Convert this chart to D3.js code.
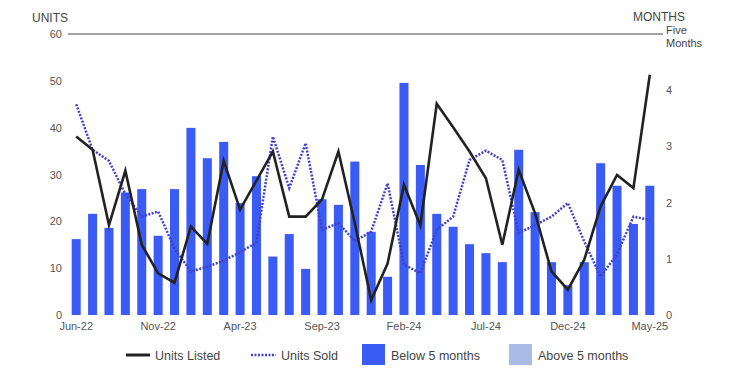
<!DOCTYPE html>
<html>
<head>
<meta charset="utf-8">
<script src="https://cdn.jsdelivr.net/npm/d3@7"></script>
<style>
  body { margin: 0; background: #fff; }
  text { font-family: "Liberation Sans", Arial, sans-serif; }
</style>
</head>
<body>
<div id="chart"></div>
<script>
  // months shown on the x axis (Jun-22 .. May-25)
  var months = ["Jun-22","Jul-22","Aug-22","Sep-22","Oct-22","Nov-22","Dec-22","Jan-23","Feb-23","Mar-23","Apr-23","May-23",
    "Jun-23","Jul-23","Aug-23","Sep-23","Oct-23","Nov-23","Dec-23","Jan-24","Feb-24","Mar-24","Apr-24","May-24",
    "Jun-24","Jul-24","Aug-24","Sep-24","Oct-24","Nov-24","Dec-24","Jan-25","Feb-25","Mar-25","Apr-25","May-25"];
  var xTickLabels = ["Jun-22","Nov-22","Apr-23","Sep-23","Feb-24","Jul-24","Dec-24","May-25"];

  // months of supply (right axis) - all below 5 months
  var monthsSupply = [1.35,1.80,1.55,2.18,2.24,1.41,2.24,3.33,2.79,3.08,1.99,2.47,
    1.04,1.44,0.82,2.06,1.96,2.73,1.48,0.68,4.13,2.67,1.80,1.57,
    1.26,1.10,0.94,2.94,1.83,0.94,0.53,0.94,2.70,2.30,1.62,2.30];
  // units (left axis)
  var unitsListed = [38.1,35.3,19.2,30.8,15.0,8.9,6.9,18.9,15.2,32.9,22.5,28.7,
    34.9,21.0,21.0,24.7,34.9,19.6,3.2,11.0,27.8,19.1,45.1,40.1,
    34.9,29.2,15.0,31.0,21.7,9.3,5.4,11.8,23.2,29.9,27.1,51.3];
  var unitsSold = [45.0,35.3,32.9,25.8,21.0,22.1,14.2,9.3,10.3,11.6,13.4,15.5,
    38.1,27.1,36.7,18.2,19.6,15.8,17.8,28.1,10.8,8.9,18.2,21.0,
    33.1,35.1,33.1,17.5,19.2,21.0,23.9,15.7,8.2,13.0,21.0,20.3];
  var leftTicks = [0,10,20,30,40,50,60];
  var rightTicks = [0,1,2,3,4];

  var width = 739, height = 385;
  var plotLeft = 68, plotRight = 658, plotTop = 34, plotBottom = 315;

  var svg = d3.select("#chart").append("svg")
    .attr("width", width).attr("height", height);

  var x = d3.scaleBand().domain(months).range([plotLeft, plotRight])
    .paddingInner(0.45).paddingOuter(0.225);
  var yL = d3.scaleLinear().domain([0, 60]).range([plotBottom, plotTop]);
  var yR = d3.scaleLinear().domain([0, 5]).range([plotBottom, plotTop]);
  var cx = function(i) { return x(months[i]) + x.bandwidth() / 2; };

  // top rule
  svg.append("line")
    .attr("x1", plotLeft).attr("x2", 663)
    .attr("y1", yL(60)).attr("y2", yL(60))
    .attr("stroke", "#444").attr("stroke-width", 1);

  // bars
  svg.selectAll(".bar").data(monthsSupply).enter()
    .append("rect")
    .attr("class", "bar")
    .attr("x", function(d, i) { return x(months[i]); })
    .attr("y", function(d) { return yR(d); })
    .attr("width", x.bandwidth())
    .attr("height", function(d) { return yR(0) - yR(d); })
    .attr("fill", function(d) { return d < 5 ? "#3b5bf7" : "#a9bce6"; });

  // lines
  var line = d3.line()
    .x(function(d, i) { return cx(i); })
    .y(function(d) { return yL(d); });

  svg.append("path").datum(unitsSold)
    .attr("d", line)
    .attr("fill", "none")
    .attr("stroke", "#4040c8")
    .attr("stroke-width", 2.5)
    .attr("stroke-dasharray", "2,1.5");

  svg.append("path").datum(unitsListed)
    .attr("d", line)
    .attr("fill", "none")
    .attr("stroke", "#222")
    .attr("stroke-width", 2.6)
    .attr("stroke-linejoin", "miter");

  // axes
  var gl = svg.append("g").attr("transform", "translate(" + plotLeft + ",0)")
    .call(d3.axisLeft(yL).tickValues(leftTicks).tickSize(0).tickPadding(6));
  var gr = svg.append("g").attr("transform", "translate(" + plotRight + ",0)")
    .call(d3.axisRight(yR).tickValues(rightTicks).tickFormat(d3.format("d")).tickSize(0).tickPadding(8));
  var gx = svg.append("g").attr("transform", "translate(0," + plotBottom + ")")
    .call(d3.axisBottom(x).tickValues(xTickLabels).tickSize(0).tickPadding(7));

  [gl, gr, gx].forEach(function(g) {
    g.select(".domain").remove();
    g.selectAll("text")
      .attr("fill", "#555")
      .style("font-size", "11px")
      .style("font-family", "'Liberation Sans', Arial, sans-serif");
  });

  // axis titles
  svg.append("text").attr("x", 32).attr("y", 22)
    .attr("fill", "#444").style("font-size", "12px").text("UNITS");
  svg.append("text").attr("x", 633).attr("y", 20.5)
    .attr("fill", "#444").style("font-size", "12px").text("MONTHS");
  svg.append("text").attr("x", 666).attr("y", yR(5) - 0.5)
    .attr("fill", "#444").style("font-size", "11px").text("Five");
  svg.append("text").attr("x", 666).attr("y", yR(5) + 12.5)
    .attr("fill", "#444").style("font-size", "11px").text("Months");

  // legend
  var ly = 355;
  var lg = svg.append("g");
  lg.append("line").attr("x1", 126).attr("x2", 150).attr("y1", ly).attr("y2", ly)
    .attr("stroke", "#222").attr("stroke-width", 3);
  lg.append("text").attr("x", 155).attr("y", ly + 4.5)
    .attr("fill", "#444").style("font-size", "12.5px").text("Units Listed");
  lg.append("line").attr("x1", 251).attr("x2", 276).attr("y1", ly).attr("y2", ly)
    .attr("stroke", "#4040c8").attr("stroke-width", 2.5).attr("stroke-dasharray", "2,1.5");
  lg.append("text").attr("x", 281).attr("y", ly + 4.5)
    .attr("fill", "#444").style("font-size", "12.5px").text("Units Sold");
  lg.append("rect").attr("x", 362).attr("y", ly - 11).attr("width", 23).attr("height", 21)
    .attr("fill", "#3b5bf7");
  lg.append("text").attr("x", 391).attr("y", ly + 4.5)
    .attr("fill", "#444").style("font-size", "12.5px").text("Below 5 months");
  lg.append("rect").attr("x", 509).attr("y", ly - 11).attr("width", 23).attr("height", 21)
    .attr("fill", "#a9bce6");
  lg.append("text").attr("x", 538).attr("y", ly + 4.5)
    .attr("fill", "#444").style("font-size", "12.5px").text("Above 5 months");
</script>
</body>
</html>
